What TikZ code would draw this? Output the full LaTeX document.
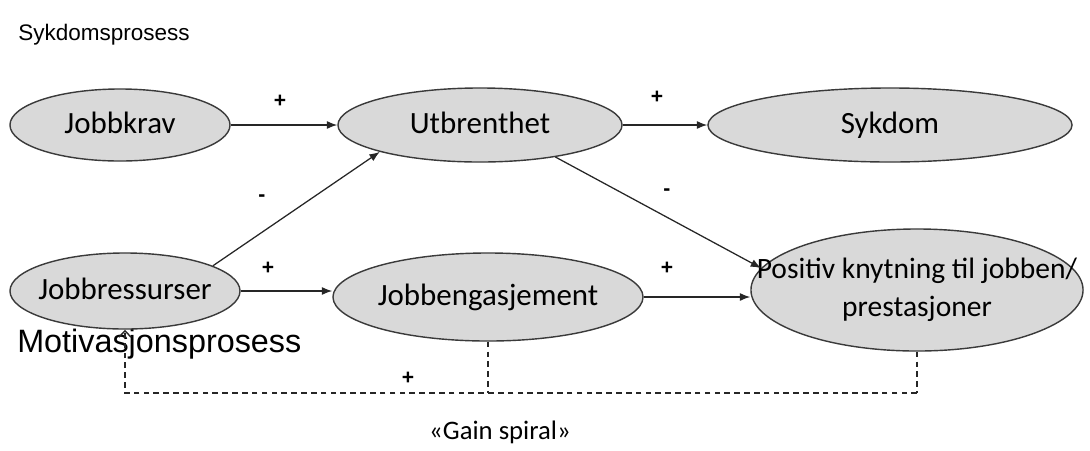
\documentclass[tikz,border=0pt]{standalone}
\usepackage{fontspec}
\setmainfont{Carlito}
\newfontfamily\arialfont{Liberation Sans}
\usepackage{tikz}
\usetikzlibrary{shapes.geometric, positioning, calc, arrows.meta}

\definecolor{ovalfill}{HTML}{D9D9D9}
\definecolor{ovalline}{HTML}{3A3A3A}

\tikzset{
    oval/.style={ellipse, draw=ovalline, fill=ovalfill, line width=1pt,
                 inner ysep=0pt, inner xsep=-10pt, align=center,
                 text height=14pt, text depth=2pt,
                 font=\fontsize{22}{24}\selectfont},
    link/.style={-{Latex[length=2.6mm,width=2mm]}, line width=0.9pt, draw=black!85},
    loop/.style={line width=1pt, dashed, dash pattern=on 4pt off 3pt, draw=black!85},
    sign/.style={font=\arialfont\fontsize{15}{16}\selectfont\bfseries, inner sep=1pt},
    heading/.style={font=\arialfont\fontsize{16}{18}\selectfont, anchor=west, inner sep=0pt}
}

\begin{document}
\begin{tikzpicture}[x=0.025cm, y=-0.025cm]
        \useasboundingbox (0,0) rectangle (1090,450);

        % Headings
        \node[heading] (sykTitle) at (18,35) {Sykdomsprosess};
        \node[heading, font=\arialfont\fontsize{23}{25}\selectfont] (motTitle) at (17,344) {Motivasjonsprosess};

        % Upper row (sykdomsprosess)
        \node[oval, minimum width=5.5cm, minimum height=1.8cm] (krav) at (120,125) {Jobbkrav};
        \node[oval, minimum width=7.1cm, minimum height=1.85cm] (utbrent) at (480,125) {Utbrenthet};
        \node[oval, minimum width=9.1cm, minimum height=1.85cm] (sykdom) at (890,125) {Sykdom};

        % Lower row (motivasjonsprosess)
        \node[oval, minimum width=5.75cm, minimum height=1.9cm] (ressurs) at (125,291) {Jobbressurser};
        \node[oval, minimum width=7.75cm, minimum height=2.2cm] (engasj) at (488,297) {Jobbengasjement};
        \node[oval, minimum width=8.3cm, minimum height=3.05cm, inner xsep=-32pt,
              text height={}, text depth={},
              font=\fontsize{21}{27}\selectfont] (positiv) at (917,290)
              {Positiv knytning til jobben/\\prestasjoner};

        % Solid arrows
        \draw[link] (krav.east) -- (utbrent.west);
        \draw[link] (utbrent.east) -- (sykdom.west);
        \draw[link] (ressurs.16) -- (utbrent.195);
        \draw[link] (utbrent.-23) -- (positiv.172);
        \draw[link] (ressurs.east) -- (ressurs.east -| engasj.west);
        \draw[link] (engasj.east) -- (engasj.east -| positiv.west);

        % Gain spiral (dashed feedback)
        \coordinate (loopR) at (positiv.south |- 0,393);
        \coordinate (loopM) at (engasj.south |- 0,393);
        \coordinate (loopL) at (ressurs.south |- 0,393);
        \draw[loop] (positiv.south) -- (loopR);
        \draw[loop] (engasj.south) -- (loopM);
        \draw[loop, -{Straight Barb[length=1.6mm,width=3mm]}] (loopR) -- (loopL) -- (ressurs.south);

        % Signs
        \node[sign] (s1) at (280,101) {+};
        \node[sign] (s2) at (657,97) {+};
        \node[sign] (s3) at (262,198) {-};
        \node[sign] (s4) at (667,192) {-};
        \node[sign] (s5) at (268,268) {+};
        \node[sign] (s6) at (667,268) {+};
        \node[sign] (s7) at (408,378) {+};

        \node[font=\fontsize{19}{21}\selectfont] (gain) at (500,432) {«Gain spiral»};

    \end{tikzpicture}
\end{document}
